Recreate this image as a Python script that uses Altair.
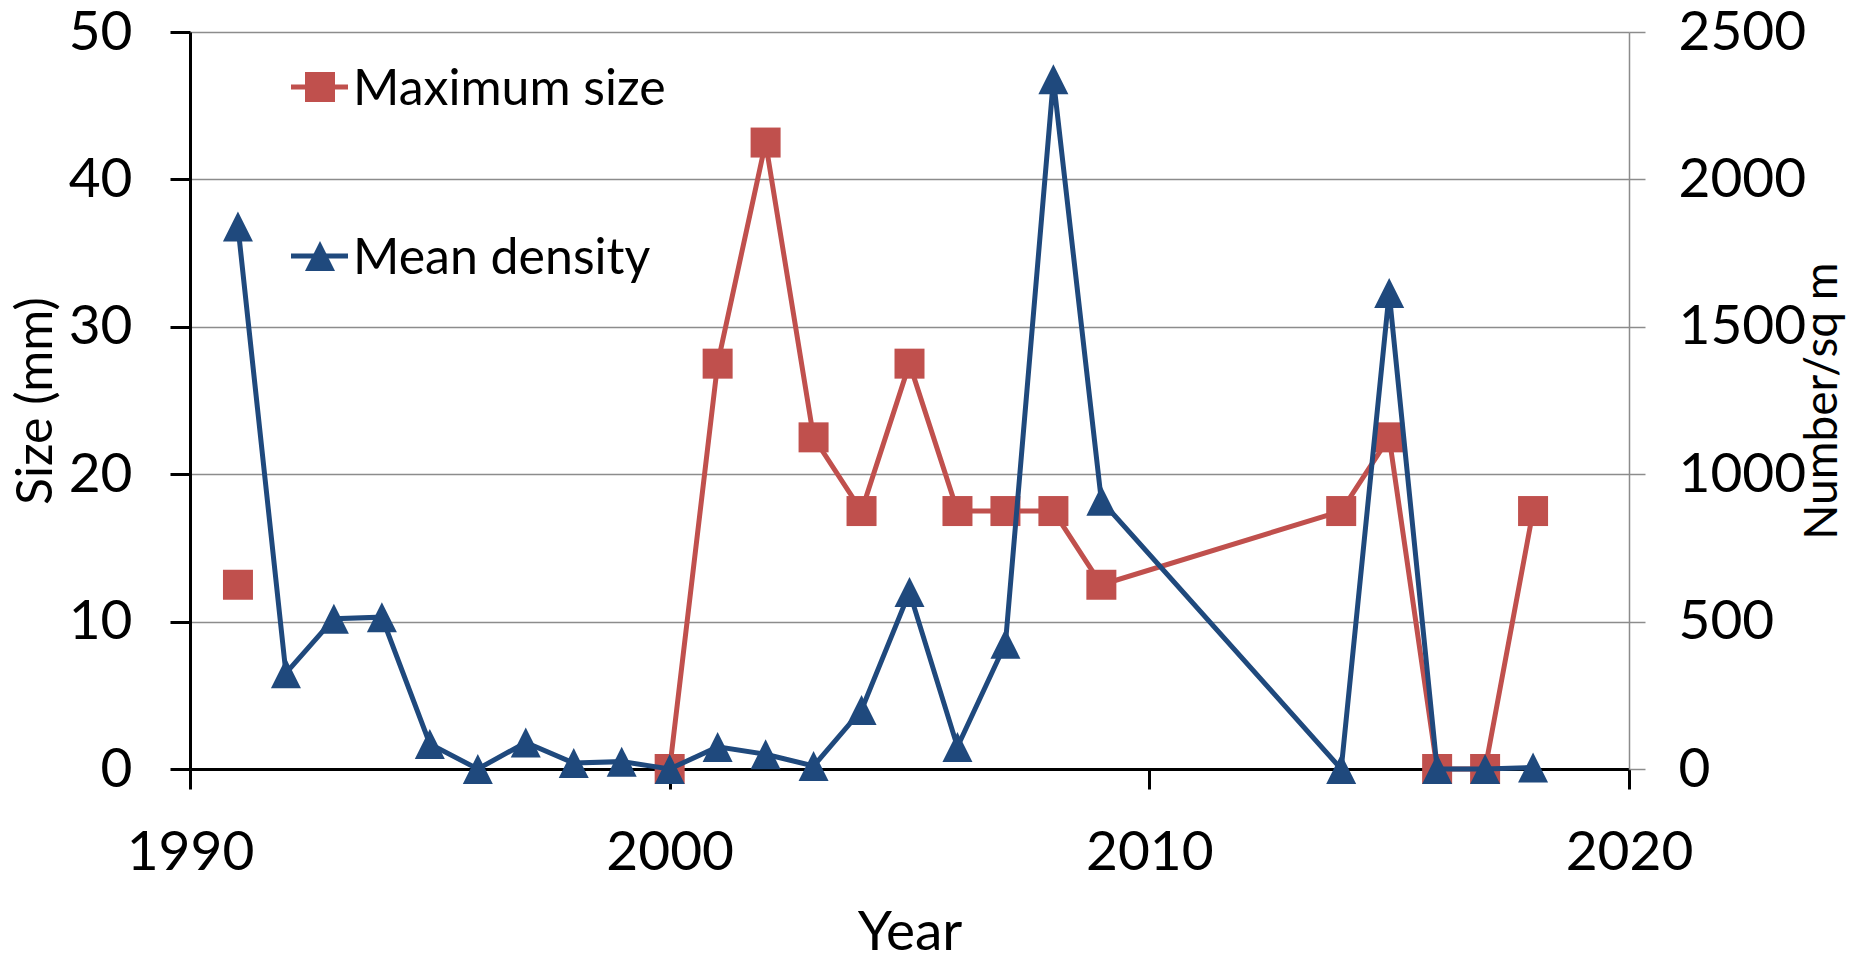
import altair as alt
import pandas as pd

# Survey years (no sampling 2010-2013)
years = [1991, 1992, 1993, 1994, 1995, 1996, 1997, 1998, 1999, 2000,
         2001, 2002, 2003, 2004, 2005, 2006, 2007, 2008, 2009,
         2014, 2015, 2016, 2017, 2018]

# Maximum size (mm); None where no size was recorded
max_size = [12.5, None, None, None, None, None, None, None, None, 0,
            27.5, 42.5, 22.5, 17.5, 27.5, 17.5, 17.5, 17.5, 12.5,
            17.5, 22.5, 0, 0, 17.5]

# Mean density (number per square metre)
mean_density = [1840, 325, 510, 515, 85, 0, 90, 20, 25, 0,
                75, 50, 10, 200, 600, 75, 425, 2340, 910,
                0, 1615, 0, 0, 5]

x_ticks = [1990, 2000, 2010, 2020]
size_ticks = [0, 10, 20, 30, 40, 50]
density_ticks = [0, 500, 1000, 1500, 2000, 2500]

series_names = ["Maximum size", "Mean density"]
RED = "#C0504D"
BLUE = "#1F497D"
GRID = "#8C8C8C"
FONT = "Lato"
TICK_FS = 55

TRIANGLE = "M0,-1L1,1L-1,1Z"

df = pd.DataFrame({"year": years, "size": max_size, "density": mean_density})

W, H = 1439, 737

x_enc = alt.X(
    "year:Q",
    scale=alt.Scale(domain=[1990, 2020], nice=False, zero=False),
    axis=alt.Axis(
        values=x_ticks, format="d", title="Year", grid=False, labelFlush=False,
        domainColor="black", domainWidth=3,
        tickColor="black", tickWidth=3, tickSize=20,
        labelFont=FONT, labelFontSize=TICK_FS, labelColor="black", labelPadding=37,
        titleFont=FONT, titleFontSize=55, titleFontWeight="normal", titleColor="black",
        titleX=W / 2, titleY=163, titleAlign="center", titleBaseline="middle",
    ),
)

y_left = alt.Y(
    "size:Q",
    scale=alt.Scale(domain=[0, 50], nice=False),
    axis=alt.Axis(
        values=size_ticks, format="d", title="Size (mm)", grid=True, labelFlush=False,
        gridColor=GRID, gridWidth=1.5,
        domainColor="black", domainWidth=3,
        tickColor="black", tickWidth=3, tickSize=20,
        labelFont=FONT, labelFontSize=TICK_FS, labelColor="black", labelPadding=38,
        titleFont=FONT, titleFontSize=50, titleFontWeight="normal", titleColor="black",
        titleX=-154, titleY=H / 2, titleAngle=270, titleAlign="center", titleBaseline="middle",
    ),
)

y_right = alt.Y(
    "density:Q",
    scale=alt.Scale(domain=[0, 2500], nice=False),
    axis=alt.Axis(
        orient="right", values=density_ticks, format="d", title="Number/sq m",
        grid=False, labelFlush=False,
        domainColor=GRID, domainWidth=1.5,
        tickColor=GRID, tickWidth=1.5, tickSize=16,
        labelFont=FONT, labelFontSize=TICK_FS, labelColor="black", labelPadding=33,
        titleFont=FONT, titleFontSize=46, titleFontWeight="normal", titleColor="black",
        titleX=193, titleY=H / 2, titleAngle=270, titleAlign="center", titleBaseline="middle",
    ),
)

base = alt.Chart(df)

size_line = base.mark_line(color=RED, strokeWidth=5, invalid="break-paths-show-domains").encode(x=x_enc, y=y_left)
size_pts = base.mark_point(shape="square", filled=True, size=900, color=RED, opacity=1).encode(x=x_enc, y=y_left)
size_layer = alt.layer(size_line, size_pts)

dens_line = base.mark_line(color=BLUE, strokeWidth=5).encode(x=x_enc, y=y_right)
dens_pts = base.mark_point(shape=TRIANGLE, filled=True, size=900, color=BLUE, opacity=1).encode(x=x_enc, y=y_right)
dens_layer = alt.layer(dens_line, dens_pts)


def legend_item(label, color, shape, y):
    d = alt.Chart(pd.DataFrame({"label": [label]}))
    line = d.mark_rule(color=color, strokeWidth=5).encode(
        x=alt.value(101), x2=alt.value(158), y=alt.value(y)
    )
    marker = d.mark_point(shape=shape, filled=True, size=900, color=color, opacity=1).encode(
        x=alt.value(130), y=alt.value(y)
    )
    text = d.mark_text(font=FONT, fontSize=50, align="left", baseline="middle", color="black").encode(
        x=alt.value(163), y=alt.value(y + 3), text="label:N"
    )
    return alt.layer(line, marker, text)


legend = alt.layer(
    legend_item(series_names[0], RED, "square", 55),
    legend_item(series_names[1], BLUE, TRIANGLE, 224),
)

chart = (
    alt.layer(size_layer, dens_layer, legend)
    .resolve_scale(y="independent")
    .properties(
        width=W,
        height=H,
        autosize=alt.AutoSizeParams(type="none"),
        padding={"left": 190, "top": 32, "right": 223, "bottom": 193},
        background="white",
    )
    .configure_view(stroke=None)
)

chart.save("out.html", embed_options={"renderer": "svg", "actions": False})
